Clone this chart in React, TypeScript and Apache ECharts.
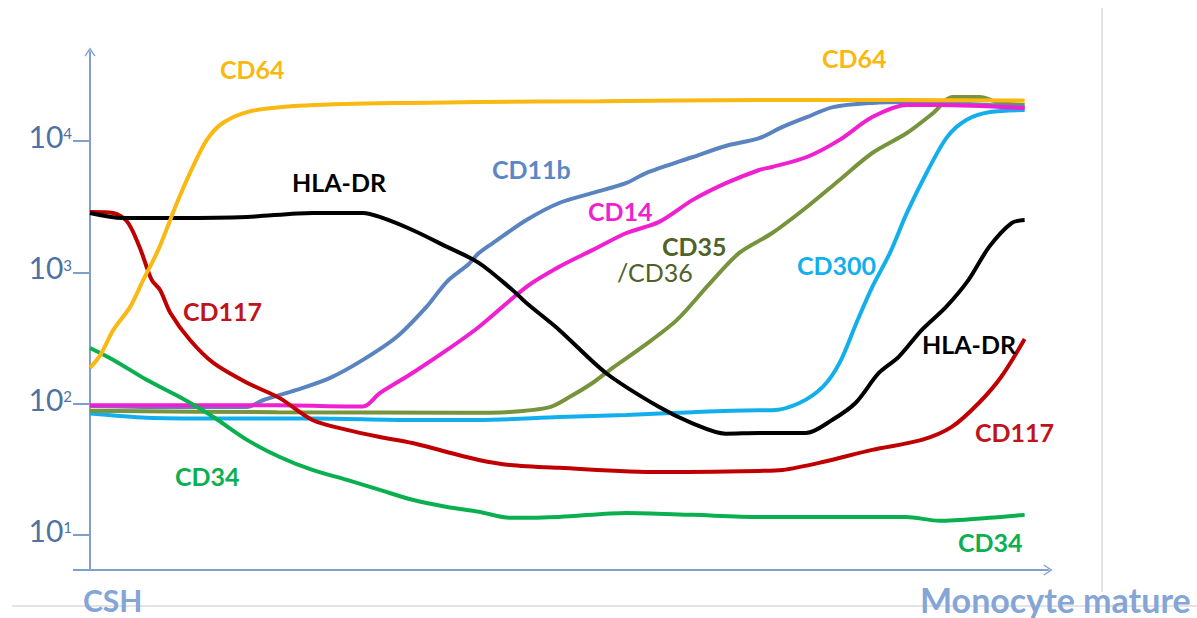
import React, { useEffect, useRef } from 'react';
import * as echarts from 'echarts';

// ---- data (x: position along differentiation 0..100, y: fluorescence intensity) ----
const xMax = 102.5;
const yMin = 5.4;
const yMax = 47600;
const yTicks = [10, 100, 1000, 10000];

const cd64 = [[0,187],[1.1,234],[2.5,364],[4.3,545],[5.7,875],[7.3,1480],[9.3,3370],[11,6340],[12.5,10200],[14.2,13700],[16.8,16600],[20.3,18100],[27.4,19100],[34.5,19500],[41.6,19800],[54.5,20100],[71.6,20500],[86.5,20500],[100,20300]];
const hladr = [[0,2830],[3.5,2590],[9.6,2590],[16.8,2640],[23.8,2830],[29.2,2830],[31,2640],[34.5,2100],[38.2,1560],[41.6,1180],[45.2,733],[46.7,583],[50.2,364],[55.2,171],[60.9,94],[64.4,71],[68,59],[71.6,59.7],[76.6,59.7],[79.4,75],[81.9,101],[84.4,171],[86.5,226],[89,364],[91.6,545],[94,875],[96.2,1560],[98.6,2370],[100,2500]];
const cd117 = [[0,2880],[2.5,2830],[4,2420],[5.3,1560],[6.6,875],[7.5,733],[8.6,490],[10.7,305],[13.2,204],[16.8,144],[20.3,110],[23.8,75],[27.5,63],[31,55.7],[34.5,50.1],[38.2,42.8],[41.6,37.2],[44.9,34.1],[50.2,32.4],[60.9,30.1],[71.6,30.7],[74.1,31.2],[78.4,35.9],[83.7,44.4],[89,52.9],[92.2,66.4],[95.1,101],[97.5,160],[100,310]];
const cd34 = [[0,265],[2.5,215],[6.1,151],[9.6,112],[13.2,79],[16.8,52.9],[20.3,39.2],[23.8,31.2],[27.5,26.2],[31,22],[34.5,18.5],[38.2,16.3],[41.6,15],[44.9,13.5],[50.2,13.7],[57.4,14.7],[64.5,14.2],[71.6,13.7],[80.2,13.7],[87.3,13.7],[90.9,12.8],[96.2,13.5],[100,14.2]];
const cd11b = [[0,96],[9.6,94],[16.8,94],[18.5,106],[22.1,127],[25.7,157],[29.2,215],[32.8,321],[36,545],[38.2,850],[40.5,1150],[41.6,1400],[43.1,1670],[46.7,2500],[50.2,3370],[53.8,4020],[57.4,4790],[59.5,5700],[64.5,7550],[68.1,9200],[71.6,10500],[74.1,12800],[76.7,15200],[79.5,18100],[83.7,19500],[87.4,19800],[100,18100]];
const cd14 = [[0,97],[10,97],[20,97],[29.2,95],[31,120],[34.5,171],[38.2,256],[41.6,383],[46.7,773],[50.2,1100],[53.8,1480],[57.4,1990],[60.9,2420],[64.5,3560],[68.1,4790],[71.6,6010],[73,6340],[76.7,7550],[80.2,10200],[83.7,15200],[87.4,18800],[90.9,18800],[100,17800]];
const cd35 = [[0,88],[20,86],[39.6,85],[44.9,86.4],[49.2,94],[51.3,112],[53.8,144],[55.6,180],[59.1,270],[62.8,434],[66.3,820],[69.5,1410],[73,1990],[76.7,3140],[80.2,5050],[83.7,8100],[87.4,11500],[90.2,16300],[92.3,21600],[95.2,21600],[97.3,19500],[100,18800]];
const cd300 = [[0,84],[6.1,78],[13.2,77],[23.8,77],[34.5,75],[41.6,75],[50.2,79],[57.4,82],[64.5,86],[71.6,89],[73,89],[75.9,101],[78.4,134],[80.2,204],[82,411],[83.7,773],[85.6,1410],[87.4,2830],[89.5,5700],[91.7,10700],[93.8,14500],[96.3,16600],[100,17200]];

const seriesDefs = [
  { name: 'CD300', data: cd300, color: '#13AFEC' },
  { name: 'CD35/CD36', data: cd35, color: '#77933C' },
  { name: 'CD11b', data: cd11b, color: '#5A84C0' },
  { name: 'CD14', data: cd14, color: '#F01FD0' },
  { name: 'CD117', data: cd117, color: '#C00000' },
  { name: 'CD34', data: cd34, color: '#0AB04F' },
  { name: 'HLA-DR', data: hladr, color: '#000000' },
  { name: 'CD64', data: cd64, color: '#F9B812' },
];

const AXIS = '#7F9FCF';
const ARROW = 'path://M0,9 L6,0 L12,9 L10.8,9.8 L6,2.6 L1.2,9.8 Z';

function lbl(text: string, x: number, y: number, fill: string, size = 25, weight: any = 'bold') {
  return {
    type: 'text',
    x,
    y,
    z: 100,
    style: {
      text,
      fill,
      fontFamily: 'Lato',
      fontWeight: weight,
      fontSize: size,
      align: 'left',
      verticalAlign: 'middle',
    },
  };
}

export default function App() {
  const ref = useRef<HTMLDivElement>(null);
  useEffect(() => {
    if (!ref.current) return;
    const chart = echarts.init(ref.current, undefined, { renderer: 'svg' });
    const option: any = {
      animation: false,
      backgroundColor: '#ffffff',
      grid: { left: 90, right: 149, top: 52, bottom: 48, containLabel: false, outerBoundsMode: 'none' },
      xAxis: {
        type: 'value',
        min: 0,
        max: xMax,
        axisLine: {
          show: true,
          onZero: false,
          symbol: ['none', ARROW],
          symbolSize: [12, 9],
          lineStyle: { color: AXIS, width: 2 },
        },
        axisTick: { show: false },
        axisLabel: { show: false },
        splitLine: { show: false },
      },
      yAxis: {
        type: 'log',
        logBase: 10,
        min: yMin,
        max: yMax,
        axisLine: {
          show: true,
          onZero: false,
          symbol: ['none', ARROW],
          symbolSize: [12, 9],
          lineStyle: { color: AXIS, width: 2 },
        },
        axisTick: {
          show: true,
          inside: false,
          length: 17,
          customValues: [yMin, ...yTicks],
          lineStyle: { color: AXIS, width: 2 },
        },
        axisLabel: {
          show: true,
          customValues: yTicks,
          margin: 18,
          formatter: (v: number) => '{b|10}{s|' + Math.round(Math.log10(v)) + '}',
          rich: {
            b: { fontFamily: 'Lato', fontSize: 30, color: '#4F71A3', lineHeight: 30, padding: [0, 0, 10, 0] },
            s: { fontFamily: 'Lato', fontSize: 15, color: '#4F71A3', lineHeight: 16, verticalAlign: 'top' },
          },
        },
        splitLine: { show: false },
      },
      series: seriesDefs.map((s) => ({
        type: 'line',
        name: s.name,
        data: s.data,
        showSymbol: false,
        smooth: 0.3,
        lineStyle: { color: s.color, width: 4 },
        itemStyle: { color: s.color },
      })),
      graphic: [
        { type: 'line', shape: { x1: 12, y1: 606, x2: 1197, y2: 606 }, style: { stroke: '#C8C8C8', lineWidth: 1 }, z: 1 },
        { type: 'line', shape: { x1: 1102, y1: 8, x2: 1102, y2: 592 }, style: { stroke: '#C8C8C8', lineWidth: 1 }, z: 1 },
        lbl('CD64', 220, 69, '#F9B812'),
        lbl('CD64', 822, 58, '#F9B812'),
        lbl('HLA-DR', 292, 182, '#000000'),
        lbl('CD11b', 492, 169, '#5B87C6'),
        lbl('CD14', 588, 211, '#F01FD0'),
        lbl('CD35', 662, 246, '#4F6228'),
        lbl('/CD36', 617, 272, '#4F6228', 25, 'normal'),
        lbl('CD300', 797, 265, '#13AFEC'),
        lbl('HLA-DR', 922, 344, '#000000'),
        lbl('CD117', 183, 311, '#C0141B'),
        lbl('CD117', 975, 432, '#C0141B'),
        lbl('CD34', 175, 476, '#0AB04F'),
        lbl('CD34', 958, 542, '#0AB04F'),
        lbl('CSH', 83, 600, '#84A5D6', 30),
        lbl('Monocyte mature', 920, 599, '#84A5D6', 34),
      ],
    };
    chart.setOption(option);
    return () => chart.dispose();
  }, []);
  return (
    <div
      ref={ref}
      style={{ position: 'fixed', left: 0, top: 0, width: 1197, height: 618, background: '#fff' }}
    />
  );
}
